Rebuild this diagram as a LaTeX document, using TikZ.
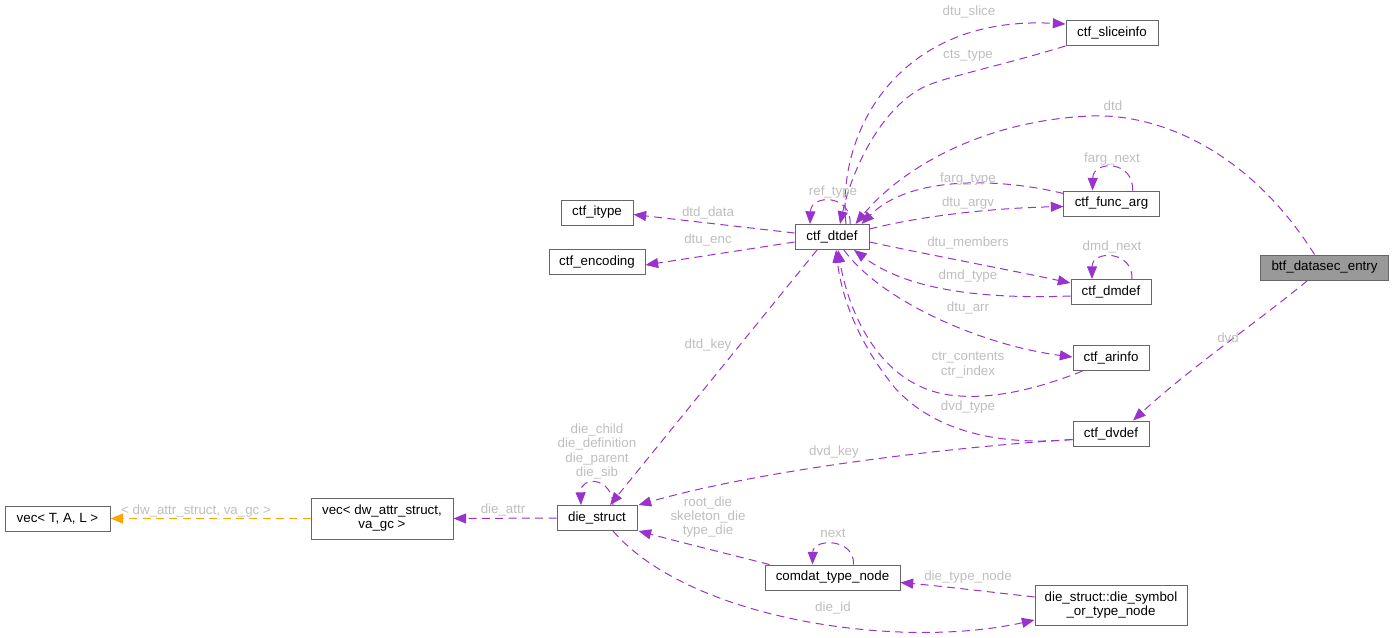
\documentclass[tikz,border=0pt]{standalone}
\usepackage{fontspec}
\setmainfont{Liberation Sans}
\usetikzlibrary{arrows.meta,calc}
\definecolor{edgep}{HTML}{9A32CD}
\definecolor{edgeo}{HTML}{FFA500}
\definecolor{lbl}{HTML}{BEBEBE}
\definecolor{bord}{HTML}{666666}
\definecolor{hl}{HTML}{999999}
\begin{document}
\begin{tikzpicture}[x=0.75pt,y=-0.75pt,
 cls/.style={draw=bord, line width=0.75pt, fill=white, inner sep=0pt, minimum height=18.75pt, font=\fontsize{10}{10.5}\selectfont, align=center},
 rel/.style={draw=edgep, line width=0.75pt, dash pattern=on 6pt off 4pt, -{Triangle[length=9.5pt,width=7.5pt]}},
 tmpl/.style={rel, draw=edgeo},
 lab/.style={text=lbl, font=\fontsize{10}{10.7}\selectfont, align=center, inner sep=0pt}
]
\useasboundingbox (0,0) rectangle (1393,637);
% nodes
\node[cls, fill=hl, minimum width=95.3pt] (btf) at (1324.5,267.5) {btf\_datasec\_entry};
\node[cls, minimum width=69pt] (sliceinfo) at (1112,33) {ctf\_sliceinfo};
\node[cls, minimum width=71.3pt] (funcarg) at (1111.5,203.5) {ctf\_func\_arg};
\node[cls, minimum width=55.5pt] (dtdef) at (832,237) {ctf\_dtdef};
\node[cls, minimum width=54pt] (itype) at (597,212.5) {ctf\_itype};
\node[cls, minimum width=72pt] (encoding) at (597,262) {ctf\_encoding};
\node[cls, minimum width=60pt] (dmdef) at (1111,292) {ctf\_dmdef};
\node[cls, minimum width=57pt] (arinfo) at (1111,358) {ctf\_arinfo};
\node[cls, minimum width=57pt] (dvdef) at (1111,433.5) {ctf\_dvdef};
\node[cls, minimum width=60pt] (diestruct) at (597,518) {die\_struct};
\node[cls, minimum width=106.5pt, minimum height=30.75pt] (vecdw) at (382,518.5) {vec< dw\_attr\_struct,\\ va\_gc >};
\node[cls, minimum width=78.75pt] (vect) at (57.5,518.5) {vec< T, A, L >};
\node[cls, minimum width=101.25pt] (comdat) at (832.5,577.5) {comdat\_type\_node};
\node[cls, minimum width=114pt, minimum height=30pt] (diesym) at (1111,605) {die\_struct::die\_symbol\\ \_or\_type\_node};
% edges
\draw[rel] ($(dtdef.north)+(14,0)$) .. controls (836,130) and (900,15) .. ($(sliceinfo.west)+(0,-9)$);
\draw[rel] (sliceinfo.south west) .. controls (1000,66) and (940,78) .. (922,88) .. controls (880,110) and (852,170) .. ($(dtdef.north)+(8,0)$);
\draw[rel] ($(btf.north)+(-10,0)$) .. controls (1250,152) and (1160,113) .. (1090,116) .. controls (980,121) and (900,170) .. ($(dtdef.north east)+(-14,0)$);
\draw[rel] ($(funcarg.west)+(0,-10)$) .. controls (1000,178) and (910,175) .. ($(dtdef.north east)+(-8,0)$);
\draw[rel] ($(dtdef.east)+(0,-8)$) .. controls (930,214) and (1000,208) .. ($(funcarg.west)+(0,3)$);
\draw[rel] ($(funcarg.north)+(21,0)$) .. controls (1134,160) and (1093,160) .. ($(funcarg.north)+(-19,0)$);
\draw[rel] ($(dtdef.north)+(18,0)$) .. controls (852,194) and (811,194) .. ($(dtdef.north)+(-22,0)$);
\draw[rel] ($(dtdef.west)+(0,-4)$) -- ($(itype.east)+(0,2)$);
\draw[rel] ($(dtdef.west)+(0,5)$) -- ($(encoding.east)+(0,3)$);
\draw[rel] ($(dtdef.east)+(0,5)$) .. controls (930,255) and (1010,270) .. ($(dmdef.west)+(0,-9)$);
\draw[rel] ($(dmdef.west)+(0,4)$) .. controls (990,299) and (910,292) .. ($(dtdef.south)+(22,0)$);
\draw[rel] ($(dmdef.north)+(21,0)$) .. controls (1133,250) and (1092,250) .. ($(dmdef.north)+(-19,0)$);
\draw[rel] ($(dtdef.south)+(12,0)$) .. controls (880,300) and (980,345) .. ($(arinfo.west)+(0,-1)$);
\draw[rel] ($(arinfo.south west)+(10,0)$) .. controls (1030,392) and (990,398) .. (960,396) .. controls (880,392) and (848,310) .. ($(dtdef.south)+(6,0)$);
\draw[rel] ($(dvdef.west)+(0,6)$) .. controls (1000,446) and (935,432) .. (895,388) .. controls (860,345) and (842,300) .. ($(dtdef.south)+(4,0)$);
\draw[rel] ($(btf.south)+(-17,0)$) .. controls (1260,320) and (1190,368) .. ($(dvdef.north)+(22,0)$);
\draw[rel] ($(dvdef.west)+(0,6)$) .. controls (950,447) and (760,470) .. ($(diestruct.north east)+(1,0)$);
\draw[rel] ($(dtdef.south)+(-15,0)$) -- ($(diestruct.north)+(13,0)$);
\draw[rel] ($(diestruct.north)+(16,0)$) .. controls (612,476) and (580,476) .. ($(diestruct.north)+(-16,0)$);
\draw[rel] (diestruct.west) -- (vecdw.east);
\draw[tmpl] (vecdw.west) -- (vect.east);
\draw[rel] ($(comdat.north west)+(5,0)$) .. controls (720,552) and (680,542) .. ($(diestruct.south east)+(1,0)$);
\draw[rel] ($(comdat.north)+(21,0)$) .. controls (855,538) and (813,538) .. ($(comdat.north)+(-20,0)$);
\draw[rel] ($(diesym.west)+(0,-8)$) .. controls (990,592) and (940,586) .. ($(comdat.east)+(0,5)$);
\draw[rel] ($(diestruct.south)+(16,0)$) .. controls (690,620) and (900,650) .. ($(diesym.west)+(0,15)$);
% labels
\node[lab] (l1) at (969,12) {dtu\_slice};
\node[lab] (l2) at (968,56) {cts\_type};
\node[lab] (l3) at (1113,106) {dtd};
\node[lab] (l4) at (1112,159) {farg\_next};
\node[lab] (l5) at (968,179) {farg\_type};
\node[lab] (l6) at (833,192) {ref\_type};
\node[lab] (l7) at (968,203) {dtu\_argv};
\node[lab] (l8) at (708,213) {dtd\_data};
\node[lab] (l9) at (708,240) {dtu\_enc};
\node[lab] (l10) at (968,243) {dtu\_members};
\node[lab] (l11) at (1112,247) {dmd\_next};
\node[lab] (l12) at (968,276) {dmd\_type};
\node[lab] (l13) at (968,308) {dtu\_arr};
\node[lab] (l14) at (968,365) {ctr\_contents\\ctr\_index};
\node[lab] (l15) at (1228,338) {dvd};
\node[lab] (l16) at (968,407) {dvd\_type};
\node[lab] (l17) at (708,345) {dtd\_key};
\node[lab] (l18) at (834,452) {dvd\_key};
\node[lab] (l19) at (597,451.5) {die\_child\\die\_definition\\die\_parent\\die\_sib};
\node[lab] (l20) at (503,510) {die\_attr};
\node[lab] (l21) at (196,511) {< dw\_attr\_struct, va\_gc >};
\node[lab] (l22) at (708,517) {root\_die\\skeleton\_die\\type\_die};
\node[lab] (l23) at (833,533) {next};
\node[lab] (l24) at (968,577) {die\_type\_node};
\node[lab] (l25) at (833,608) {die\_id};
\end{tikzpicture}
\end{document}
